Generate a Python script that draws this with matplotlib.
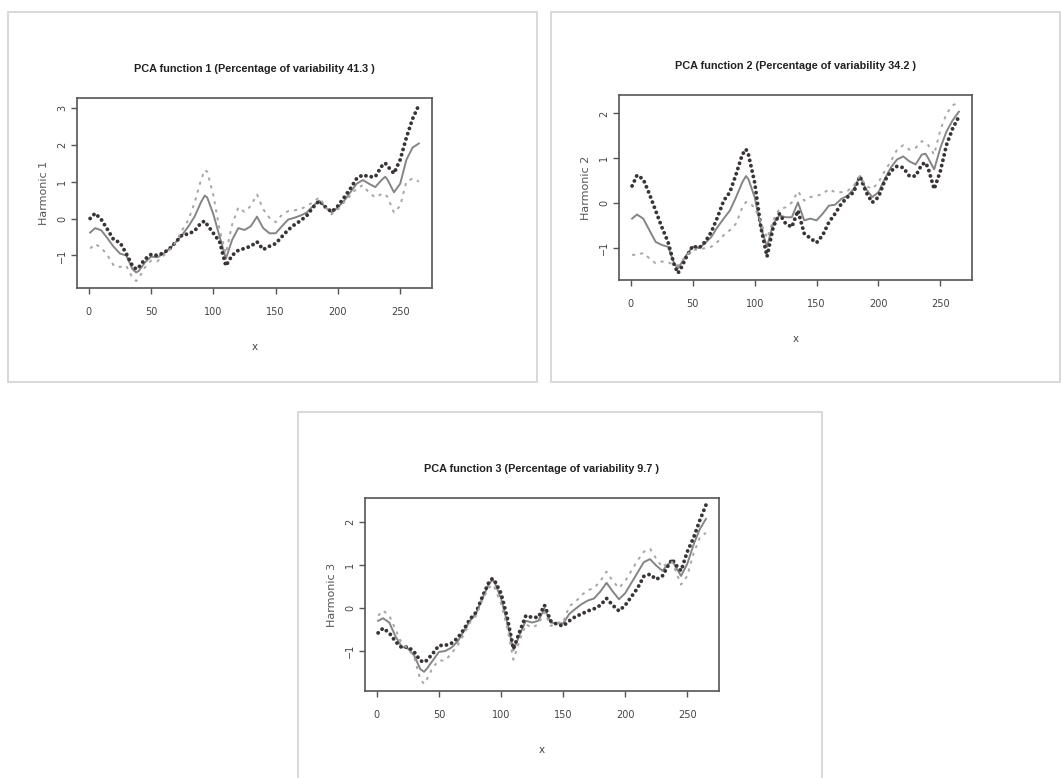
import numpy as np
import matplotlib
matplotlib.use("Agg")
import matplotlib.pyplot as plt
from matplotlib.patches import Rectangle

# argument grid
xs = [1, 5, 10, 15, 20, 25, 30, 35, 38, 40, 45, 50, 55, 60, 65, 70, 75, 80, 85, 90, 93, 95,
      100, 105, 110, 115, 120, 125, 130, 135, 140, 145, 150, 155, 160, 165, 170, 175, 180, 185,
      190, 195, 200, 205, 210, 215, 220, 225, 230, 235, 238, 240, 245, 250, 255, 260, 265]

# harmonic 1
h1_plus = [0.0, 0.14, -0.03, -0.3, -0.58, -0.65, -0.95, -1.28, -1.37, -1.32, -1.1, -0.97, -1.0, -0.93,
           -0.81, -0.63, -0.44, -0.42, -0.33, -0.12, -0.07, -0.17, -0.40, -0.63, -1.28, -1.0, -0.86,
           -0.81, -0.75, -0.63, -0.84, -0.75, -0.68, -0.49, -0.31, -0.17, -0.06, 0.08, 0.30, 0.48,
           0.31, 0.18, 0.34, 0.57, 0.81, 1.08, 1.18, 1.13, 1.13, 1.41, 1.5, 1.41, 1.22, 1.59, 2.19,
           2.70, 3.07]
h1_mean = [-0.38, -0.26, -0.32, -0.54, -0.77, -0.95, -1.0, -1.37, -1.46, -1.42, -1.19, -1.03, -1.05,
           -0.95, -0.81, -0.63, -0.44, -0.21, 0.06, 0.44, 0.62, 0.57, 0.11, -0.49, -1.09, -0.58, -0.26,
           -0.31, -0.21, 0.05, -0.26, -0.4, -0.4, -0.21, -0.03, 0.02, 0.08, 0.16, 0.34, 0.48, 0.30,
           0.16, 0.30, 0.48, 0.71, 0.94, 1.04, 0.94, 0.85, 1.04, 1.13, 1.04, 0.71, 0.94, 1.59, 1.92,
           2.03]
h1_minus = [-0.81, -0.69, -0.79, -1.0, -1.28, -1.31, -1.28, -1.6, -1.69, -1.62, -1.32, -1.14, -1.16,
            -1.0, -0.84, -0.63, -0.31, -0.03, 0.44, 1.04, 1.31, 1.27, 0.62, -0.31, -0.95, -0.17, 0.30,
            0.18, 0.34, 0.65, 0.25, 0.02, -0.10, 0.10, 0.20, 0.22, 0.25, 0.34, 0.44, 0.57, 0.30, 0.11,
            0.25, 0.44, 0.62, 0.81, 0.90, 0.70, 0.57, 0.66, 0.66, 0.57, 0.16, 0.34, 1.0, 1.08, 1.0]

# harmonic 2
h2_plus = [0.38, 0.62, 0.53, 0.2, -0.17, -0.54, -0.87, -1.38, -1.57, -1.49, -1.2, -0.96, -1.01, -0.87,
           -0.65, -0.32, 0.05, 0.24, 0.64, 1.08, 1.2, 1.08, 0.46, -0.54, -1.2, -0.54, -0.24, -0.46,
           -0.54, -0.17, -0.68, -0.79, -0.89, -0.72, -0.43, -0.24, -0.02, 0.13, 0.24, 0.6, 0.24, 0.01,
           0.13, 0.49, 0.71, 0.82, 0.79, 0.6, 0.6, 0.86, 0.9, 0.79, 0.31, 0.71, 1.30, 1.67, 1.93]
h2_mean = [-0.35, -0.26, -0.35, -0.61, -0.87, -0.94, -0.98, -1.35, -1.46, -1.38, -1.16, -0.98, -1.01,
           -0.9, -0.76, -0.54, -0.35, -0.17, 0.13, 0.46, 0.6, 0.53, 0.13, -0.54, -0.98, -0.46, -0.28,
           -0.32, -0.32, 0.01, -0.39, -0.35, -0.39, -0.24, -0.06, -0.04, 0.09, 0.16, 0.31, 0.6, 0.31,
           0.13, 0.24, 0.53, 0.79, 0.97, 1.04, 0.93, 0.86, 1.08, 1.1, 1.01, 0.75, 1.23, 1.6, 1.85, 2.04]
h2_minus = [-1.16, -1.16, -1.12, -1.24, -1.35, -1.31, -1.33, -1.38, -1.4, -1.35, -1.16, -1.05, -1.04,
            -1.01, -0.98, -0.87, -0.72, -0.61, -0.46, -0.1, 0.02, 0.01, -0.1, -0.43, -0.79, -0.39,
            -0.13, -0.1, 0.01, 0.26, 0.05, 0.13, 0.16, 0.2, 0.31, 0.24, 0.24, 0.27, 0.38, 0.6, 0.38,
            0.31, 0.46, 0.71, 0.93, 1.19, 1.29, 1.19, 1.23, 1.38, 1.35, 1.30, 1.08, 1.63, 2.0, 2.18, 2.26]

# harmonic 3
h3_plus = [-0.58, -0.47, -0.58, -0.78, -0.92, -0.9, -1.02, -1.22, -1.26, -1.22, -1.06, -0.87, -0.87,
           -0.82, -0.70, -0.5, -0.26, -0.1, 0.26, 0.58, 0.68, 0.62, 0.34, -0.22, -0.95, -0.55, -0.18,
           -0.22, -0.22, 0.06, -0.30, -0.38, -0.42, -0.30, -0.2, -0.14, -0.07, -0.02, 0.06, 0.22, 0.06,
           -0.07, 0.06, 0.26, 0.46, 0.73, 0.78, 0.66, 0.74, 1.0, 1.13, 1.02, 0.86, 1.3, 1.62, 2.02, 2.38]
h3_mean = [-0.3, -0.24, -0.34, -0.66, -0.9, -0.94, -1.1, -1.42, -1.48, -1.42, -1.22, -1.02, -1.0, -0.92,
           -0.78, -0.54, -0.3, -0.12, 0.22, 0.54, 0.65, 0.58, 0.22, -0.34, -0.98, -0.62, -0.30, -0.34,
           -0.30, -0.02, -0.34, -0.36, -0.36, -0.14, -0.02, 0.09, 0.17, 0.22, 0.38, 0.58, 0.38, 0.2,
           0.34, 0.58, 0.82, 1.06, 1.13, 0.98, 0.86, 1.02, 1.1, 0.98, 0.74, 1.02, 1.46, 1.82, 2.06]
h3_minus = [-0.18, -0.06, -0.18, -0.5, -0.82, -0.94, -1.14, -1.66, -1.76, -1.67, -1.38, -1.22, -1.22,
            -1.06, -0.87, -0.62, -0.34, -0.18, 0.18, 0.46, 0.54, 0.46, 0.1, -0.46, -1.2, -0.75, -0.38,
            -0.46, -0.38, -0.1, -0.42, -0.34, -0.34, 0.04, 0.14, 0.3, 0.41, 0.46, 0.62, 0.84, 0.62,
            0.46, 0.62, 0.86, 1.1, 1.3, 1.37, 1.14, 0.94, 1.06, 1.06, 0.9, 0.54, 0.74, 1.26, 1.62, 1.74]

pcts = ["41.3", "34.2", "9.7"]
yticks = [[-1, 0, 1, 2, 3], [-1, 0, 1, 2], [-1, 0, 1, 2]]

narrow = ["Liberation Sans Narrow", "Liberation Sans", "DejaVu Sans"]

fig = plt.figure(figsize=(10.62, 7.78), dpi=100)

# grey frames round each sub-picture
for (x0, y0, w, h) in [(8, 12, 529, 370), (551, 12, 509, 370), (298, 412, 524, 380)]:
    fig.add_artist(Rectangle((x0 / 1062, 1 - (y0 + h) / 778), w / 1062, h / 778,
                             transform=fig.transFigure, fill=False, ec="#d6d6d6", lw=1.3))

boxes = [(77, 98, 432, 288), (619, 95, 972, 280), (365, 498, 719, 691)]
data = [(h1_plus, h1_mean, h1_minus), (h2_plus, h2_mean, h2_minus), (h3_plus, h3_mean, h3_minus)]

for i in range(3):
    l, t, r, b = boxes[i]
    ax = fig.add_axes([l / 1062, 1 - b / 778, (r - l) / 1062, (b - t) / 778])
    plus, mean, minus = data[i]
    ax.plot(xs, mean, color="#858585", lw=1.4)
    # "+" curve: dense dark dots, "-" curve: light dashes
    ax.plot(xs, plus, ls=(0, (0.01, 1.4)), lw=2.8, dash_capstyle="round", color="#3b3434")
    ax.plot(xs, minus, ls=(0, (1.6, 2.6)), lw=1.4, color="#a6a6a6")
    ax.margins(x=0.04, y=0.04)
    ax.set_xticks([0, 50, 100, 150, 200, 250])
    ax.set_yticks(yticks[i])
    ax.tick_params(length=4, width=1, color="#555555", labelcolor="#444444", labelsize=7)
    ax.tick_params(axis="x", pad=10)
    ax.tick_params(axis="y", pad=3)
    for lab in ax.get_yticklabels():
        lab.set_rotation(90)
        lab.set_va("center")
    for s in ax.spines.values():
        s.set_color("#555555")
        s.set_linewidth(1.2)
    ax.set_title("PCA function %d (Percentage of variability %s )" % (i + 1, pcts[i]),
                 family=narrow, fontweight="bold", fontsize=7.8, pad=19, color="#222222")
    ax.set_xlabel("x", fontsize=7.5, color="#444444", labelpad=18)
    ax.set_ylabel("Harmonic %d" % (i + 1), fontsize=8, color="#555555", labelpad=6)

plt.savefig("out.png", dpi=100)
